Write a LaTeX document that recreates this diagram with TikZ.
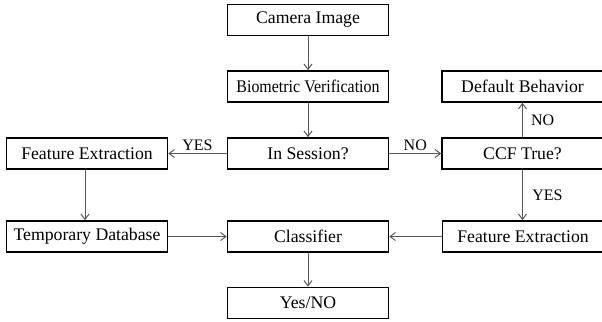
\documentclass[tikz,border=0pt]{standalone}
\usepackage{fontspec}
\setmainfont{Liberation Serif}
\usepackage{tikz}
\usetikzlibrary{arrows}
\usetikzlibrary{arrows.meta}
\usetikzlibrary{positioning}
\tikzset{>={Straight Barb[length=4pt,width=6pt]}}
\tikzstyle{blk} = [draw=black, line width=1.2pt, fill=white, minimum width=120.75pt, minimum height=23.25pt, inner sep=0, font=\fontsize{13.3}{15}\selectfont]
\tikzstyle{flow} = [->, draw=black!65, line width=0.75pt]
\tikzstyle{lbl} = [draw=none, inner sep=1pt, font=\fontsize{12}{14}\selectfont]

\begin{document}
\begin{tikzpicture}[x=0.75pt, y=-0.75pt]
\useasboundingbox (0, 0) rectangle (602, 321);
\node [blk] (cam) at (308, 20) {Camera Image};
\node [blk] (bio) at (308, 86.5) {\scalebox{0.9}[1]{Biometric Verification}};
\node [blk] (sess) at (308, 153.5) {In Session?};
\node [blk] (cls) at (308, 236.5) {Classifier};
\node [blk] (res) at (308, 303) {Yes/NO};
\node [blk] (featL) at (87, 153.5) {Feature Extraction};
\node [blk] (tmpdb) at (87, 236.5) {Temporary Database};
\node [blk] (dflt) at (522.5, 86.5) {Default Behavior};
\node [blk] (ccf) at (522.5, 153.5) {CCF True?};
\node [blk] (featR) at (523, 236.5) {Feature Extraction};
\draw [flow] (cam) to (bio);
\draw [flow] (bio) to (sess);
\draw [flow] (sess) to node [lbl, above=1pt] (yesL) {YES} (featL);
\draw [flow] (sess) to node [lbl, above=1pt] (noR) {NO} (ccf);
\draw [flow] (ccf) to node [lbl, right=5pt] (noUp) {NO} (dflt);
\draw [flow] (ccf) to node [lbl, right=6pt] (yesDn) {YES} (featR.north -| ccf);
\draw [flow] (featL.south -| 85, 0) to (tmpdb.north -| 85, 0);
\draw [flow] (tmpdb) to (cls);
\draw [flow] (featR) to (cls);
\draw [flow] (cls) to (res);
\end{tikzpicture}
\end{document}
